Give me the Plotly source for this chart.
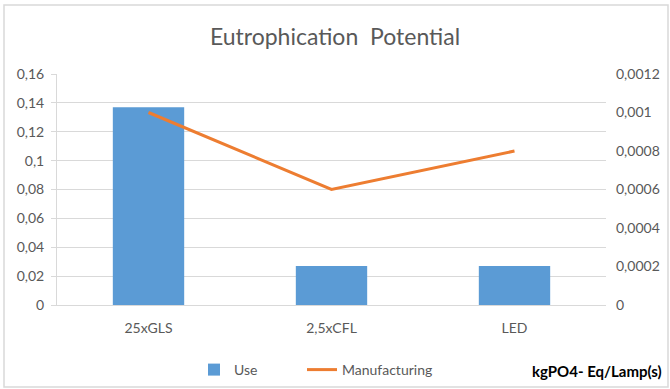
import plotly.graph_objects as go

categories = ["25xGLS", "2,5xCFL", "LED"]
use_values = [0.137, 0.027, 0.027]
manufacturing_values = [0.001, 0.0006, 0.0008]
left_tickvals = [0, 0.02, 0.04, 0.06, 0.08, 0.1, 0.12, 0.14, 0.16]
left_ticktext = ["0", "0,02", "0,04", "0,06", "0,08", "0,1", "0,12", "0,14", "0,16"]
right_tickvals = [0, 0.0002, 0.0004, 0.0006, 0.0008, 0.001, 0.0012]
right_ticktext = ["0", "0,0002", "0,0004", "0,0006", "0,0008", "0,001", "0,0012"]

W, H = 670, 389
L, R, T, B = 57, 64, 74, 84

def cx(x):
    return x / W

def cy(y):
    return 1 - y / H

FONT = "Lato"
GREY = "#595959"

fig = go.Figure()
fig.add_trace(go.Bar(
    x=categories, y=use_values, name="Use",
    marker=dict(color="#5B9BD5", line=dict(width=0)),
    yaxis="y", legend="legend", showlegend=True,
))
fig.add_trace(go.Scatter(
    x=categories, y=manufacturing_values, name="Manufacturing",
    mode="lines", line=dict(color="#ED7D31", width=3),
    yaxis="y2", legend="legend2", showlegend=True,
))

legend_common = dict(orientation="h", xref="container", yref="container",
                     xanchor="left", yanchor="middle",
                     font=dict(size=14, color=GREY, family=FONT),
                     bgcolor="rgba(0,0,0,0)")

fig.update_layout(
    width=W, height=H,
    showlegend=True,
    margin=dict(l=L, r=R, t=T, b=B, autoexpand=False),
    paper_bgcolor="white", plot_bgcolor="white",
    font=dict(family=FONT, color=GREY, size=14),
    separators=", ",
    bargap=0.61,
    title=dict(text="Eutrophication  Potential", x=0.5, xanchor="center",
               xref="container", yref="container",
               y=cy(37), yanchor="middle",
               font=dict(family=FONT, size=23, color=GREY)),
    xaxis=dict(showgrid=False, showline=True, linecolor="#d9d9d9", linewidth=1,
               ticks="", ticklabelstandoff=10,
               tickfont=dict(size=14, color=GREY), fixedrange=True),
    yaxis=dict(range=[0, 0.16], tickvals=left_tickvals, ticktext=left_ticktext,
               showgrid=True, gridcolor="#d9d9d9", gridwidth=1,
               showline=True, linecolor="#d9d9d9", linewidth=1,
               ticks="outside", ticklen=5, tickcolor="#d9d9d9",
               ticklabelstandoff=4,
               tickfont=dict(size=14, color=GREY), zeroline=False),
    yaxis2=dict(range=[0, 0.0012], tickvals=right_tickvals, ticktext=right_ticktext,
                overlaying="y", side="right", showgrid=False, showline=False,
                ticks="", ticklabelstandoff=9, zeroline=False,
                tickfont=dict(size=14, color=GREY)),
    legend=dict(legend_common, x=cx(194), y=cy(370)),
    legend2=dict(legend_common, x=cx(302), y=cy(370)),
    annotations=[dict(text="<b>kgPO4- Eq/Lamp(s)</b>", xref="paper", yref="paper",
                      x=(664 - L) / (W - L - R), y=(H - B - 371) / (H - T - B),
                      xanchor="right", yanchor="middle",
                      showarrow=False, font=dict(family=FONT, size=15, color="#000000"))],
    shapes=[dict(type="rect", xref="paper", yref="paper",
                 x0=(4 - L) / (W - L - R), x1=(668 - L) / (W - L - R),
                 y0=(H - B - 387) / (H - T - B), y1=(H - B - 5) / (H - T - B),
                 line=dict(color="#d9d9d9", width=1.5), fillcolor="rgba(0,0,0,0)",
                 layer="below")],
)

fig.write_html("out.html")
